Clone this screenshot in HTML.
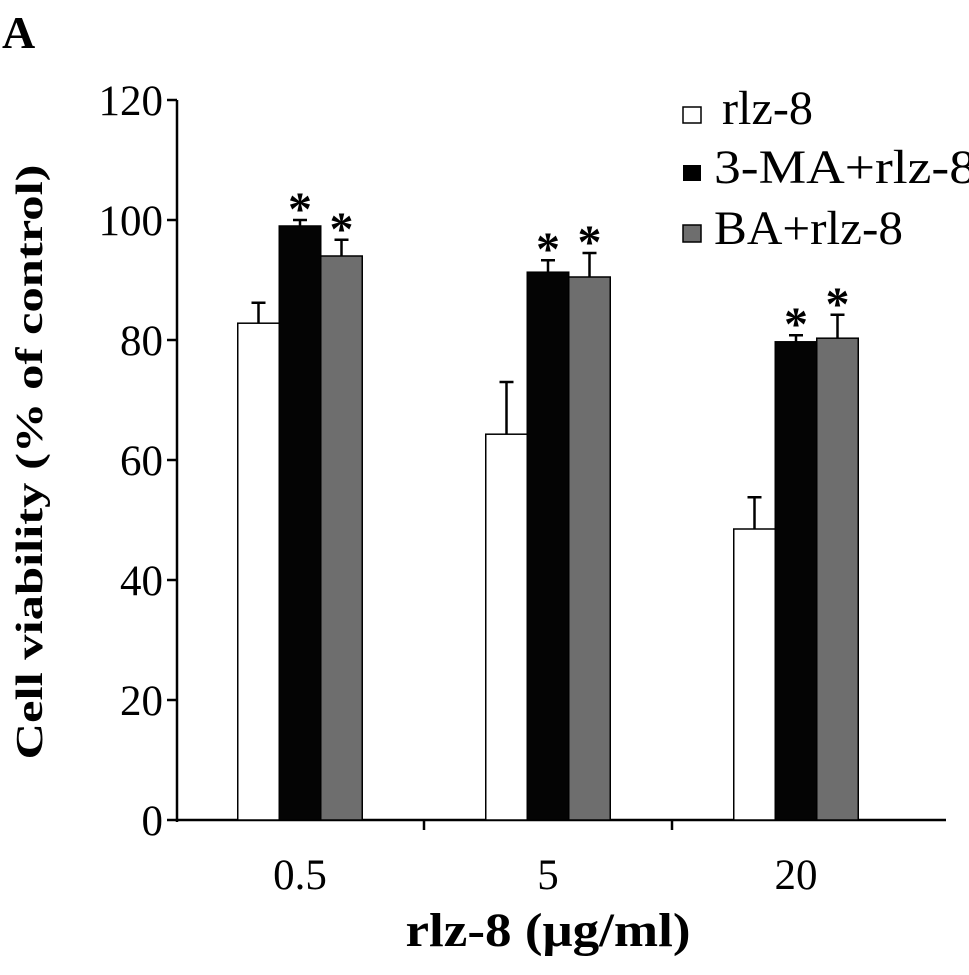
<!DOCTYPE html>
<html><head><meta charset="utf-8"><style>
body{margin:0;background:#fff}
svg text{font-family:"Liberation Serif",serif}
</style></head><body>
<svg id="chart" width="969" height="970" viewBox="0 0 969 970">
<text x="2" y="48" font-size="46" font-weight="bold">A</text>
<text transform="translate(42,462) rotate(-90)" text-anchor="middle" font-size="38" font-weight="bold" textLength="595" lengthAdjust="spacingAndGlyphs">Cell viability (% of control)</text>
<text x="548" y="946" text-anchor="middle" font-size="48" font-weight="bold" textLength="285" lengthAdjust="spacingAndGlyphs">rlz-8 (μg/ml)</text>
<g id="axes"></g><g id="bars"></g>
<g>
<rect x="683" y="107" width="18" height="16" fill="#fff" stroke="#000" stroke-width="1.5"/>
<text x="722" y="124" font-size="48" textLength="91" lengthAdjust="spacingAndGlyphs">rlz-8</text>
<rect x="683" y="165" width="18" height="16" fill="#000"/>
<text x="714" y="183" font-size="48" textLength="262" lengthAdjust="spacingAndGlyphs">3-MA+rlz-8</text>
<rect x="683" y="225" width="18" height="17" fill="#6e6e6e" stroke="#000" stroke-width="1.5"/>
<text x="714" y="244" font-size="48" textLength="189" lengthAdjust="spacingAndGlyphs">BA+rlz-8</text>
</g>
</svg>
<script>
const categories=["0.5","5","20"];
const rlzValues=[82.8,64.3,48.5];
const rlzErr=[3.4,8.7,5.3];
const maValues=[99,91.3,79.7];
const maErr=[1,2,1.1];
const baValues=[94,90.5,80.3];
const baErr=[2.7,4,3.9];
const yTicks=[0,20,40,60,80,100,120];
const NS="http://www.w3.org/2000/svg";
const y0=820,pxPerUnit=6,axX=177;
const y=v=>y0-v*pxPerUnit;
const cx=i=>300+i*248;
const bw=41.5;
function mk(tag,attrs,parent){const e=document.createElementNS(NS,tag);for(const k in attrs)e.setAttribute(k,attrs[k]);parent.appendChild(e);return e;}
const ax=document.getElementById('axes');
let l=mk('line',{x1:axX,y1:y(120),x2:axX,y2:y0+2,stroke:'#000','stroke-width':2.5},ax);


l=mk('line',{x1:axX,y1:y0,x2:946,y2:y0,stroke:'#000','stroke-width':2.5},ax);


yTicks.forEach(t=>{
  const tk=mk('line',{x1:axX-10,y1:y(t),x2:axX,y2:y(t),stroke:'#000','stroke-width':2.5},ax);
  
  
  const tx=mk('text',{x:163,y:y(t)+15,'text-anchor':'end','font-size':43},ax);
  tx.textContent=t;
  
  
});
categories.forEach((c,i)=>{
  if(i<categories.length-1){
    const sx=cx(i)+124;
    const tk=mk('line',{x1:sx,y1:y0,x2:sx,y2:y0+10,stroke:'#000','stroke-width':2.5},ax);
    
    
  }
  const tx=mk('text',{x:cx(i),y:889,'text-anchor':'middle','font-size':43},ax);
  tx.textContent=c;
  
  
});
const bg=document.getElementById('bars');
const series=[[rlzValues,rlzErr,'#fff','rlz8',false],[maValues,maErr,'#040404','3ma',true],[baValues,baErr,'#6e6e6e','ba',true]];
categories.forEach((c,i)=>{
  series.forEach((s,j)=>{
    const x=cx(i)-bw*1.5+j*bw, v=s[0][i], e=s[1][i];
    const r=mk('rect',{x:x,y:y(v),width:bw,height:y0-y(v),fill:s[2],stroke:'#000','stroke-width':1.5},bg);
    
    
    const m=x+bw/2;
    const el=mk('path',{d:`M${m},${y(v)}V${y(v+e)}M${m-7},${y(v+e)}H${m+7}`,stroke:'#000','stroke-width':2.5,fill:'none'},bg);
    
    
    if(s[4]){
      const st=mk('text',{x:m,y:y(v+e)+5,'text-anchor':'middle','font-size':48,'font-weight':'bold'},bg);
      st.textContent='*';
      
      
    }
  });
});
</script>
</body></html>
